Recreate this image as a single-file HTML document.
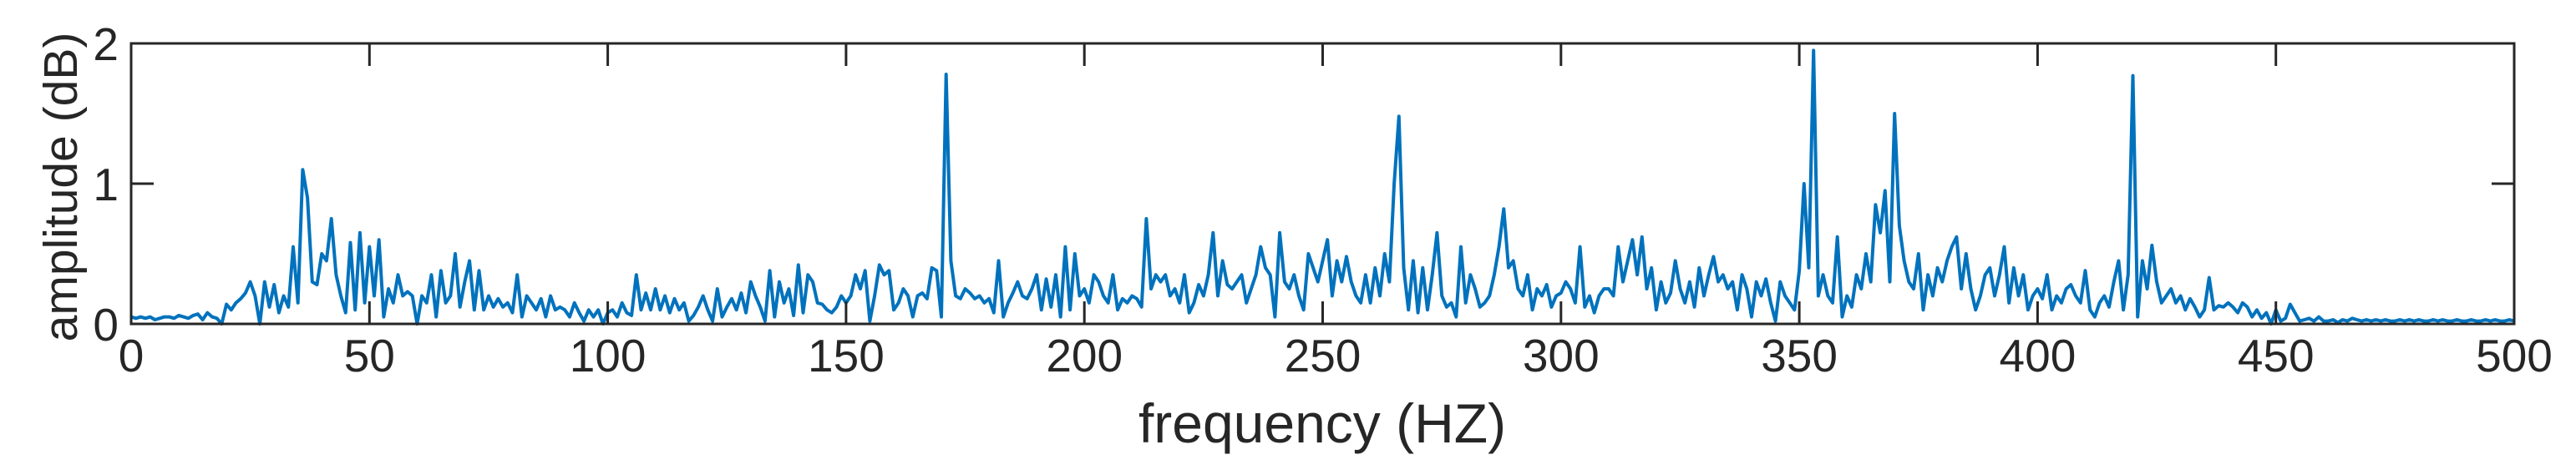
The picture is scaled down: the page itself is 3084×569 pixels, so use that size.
<!DOCTYPE html>
<html><head><meta charset="utf-8"><style>
html,body{margin:0;padding:0;background:#fff;}
svg{display:block;}
text{font-family:"Liberation Sans",Arial,sans-serif;fill:#262626;}
</style></head><body>
<svg id="chart" width="3084" height="569" viewBox="0 0 3084 569" xmlns="http://www.w3.org/2000/svg">
<g id="plot"></g>
<g id="axes"></g>
<text x="1583" y="530" font-size="66" text-anchor="middle">frequency (HZ)</text>
<text transform="translate(92,224) rotate(-90)" font-size="57" text-anchor="middle">amplitude (dB)</text>
</svg>
<script>
const xTicks = [0,50,100,150,200,250,300,350,400,450,500];
const xTickLabels = ["0","50","100","150","200","250","300","350","400","450","500"];
const yTicks = [0,1,2];
const yTickLabels = ["0","1","2"];
const freqStart = 0;
const freqStep = 1;
const amplitude = [
0.05,0.04,0.05,0.04,0.05,0.03,0.04,0.05,0.05,0.04,
0.06,0.05,0.04,0.06,0.07,0.03,0.08,0.05,0.04,0.0,
0.14,0.1,0.15,0.18,0.22,0.3,0.2,0.0,0.3,0.12,
0.28,0.08,0.2,0.12,0.55,0.15,1.1,0.9,0.3,0.28,
0.5,0.45,0.75,0.35,0.2,0.08,0.58,0.1,0.65,0.15,
0.55,0.2,0.6,0.05,0.25,0.15,0.35,0.2,0.23,0.2,
0.0,0.2,0.15,0.35,0.05,0.38,0.15,0.2,0.5,0.12,
0.3,0.45,0.1,0.38,0.1,0.2,0.12,0.18,0.12,0.15,
0.08,0.35,0.05,0.2,0.15,0.1,0.18,0.05,0.2,0.1,
0.12,0.1,0.05,0.15,0.08,0.02,0.1,0.05,0.1,0.0,
0.08,0.1,0.05,0.15,0.08,0.06,0.35,0.1,0.22,0.1,
0.25,0.1,0.2,0.08,0.18,0.1,0.15,0.02,0.06,0.12,
0.2,0.1,0.02,0.25,0.05,0.12,0.18,0.1,0.22,0.08,
0.3,0.2,0.12,0.02,0.38,0.05,0.3,0.15,0.25,0.06,
0.42,0.08,0.35,0.3,0.15,0.14,0.1,0.08,0.12,0.2,
0.15,0.2,0.35,0.25,0.38,0.02,0.2,0.42,0.35,0.38,
0.1,0.15,0.25,0.2,0.05,0.2,0.22,0.18,0.4,0.38,
0.05,1.78,0.45,0.2,0.18,0.25,0.22,0.18,0.2,0.15,
0.18,0.08,0.45,0.05,0.15,0.22,0.3,0.2,0.18,0.25,
0.35,0.1,0.32,0.12,0.35,0.05,0.55,0.1,0.5,0.2,
0.25,0.15,0.35,0.3,0.2,0.15,0.35,0.1,0.18,0.15,
0.2,0.18,0.12,0.75,0.25,0.35,0.3,0.35,0.2,0.25,
0.15,0.35,0.08,0.15,0.28,0.2,0.35,0.65,0.2,0.45,
0.28,0.25,0.3,0.35,0.15,0.25,0.35,0.55,0.4,0.35,
0.05,0.65,0.3,0.25,0.35,0.2,0.1,0.5,0.4,0.3,
0.45,0.6,0.2,0.45,0.3,0.48,0.3,0.2,0.15,0.35,
0.15,0.4,0.2,0.5,0.3,1.0,1.48,0.4,0.1,0.45,
0.08,0.4,0.1,0.35,0.65,0.2,0.12,0.15,0.05,0.55,
0.15,0.35,0.25,0.12,0.15,0.2,0.35,0.55,0.82,0.4,
0.45,0.25,0.2,0.35,0.1,0.25,0.2,0.28,0.12,0.2,
0.22,0.3,0.25,0.15,0.55,0.12,0.2,0.08,0.2,0.25,
0.25,0.2,0.55,0.3,0.45,0.6,0.35,0.62,0.25,0.4,
0.1,0.3,0.15,0.22,0.45,0.25,0.15,0.3,0.12,0.4,
0.2,0.35,0.48,0.3,0.35,0.25,0.3,0.1,0.35,0.25,
0.05,0.3,0.2,0.32,0.15,0.02,0.3,0.2,0.15,0.1,
0.38,1.0,0.4,1.95,0.2,0.35,0.2,0.15,0.62,0.05,
0.2,0.12,0.35,0.25,0.5,0.3,0.85,0.65,0.95,0.3,
1.5,0.7,0.45,0.3,0.25,0.5,0.1,0.35,0.2,0.4,
0.3,0.45,0.55,0.62,0.25,0.5,0.25,0.1,0.2,0.35,
0.4,0.2,0.35,0.55,0.15,0.4,0.2,0.35,0.1,0.2,
0.25,0.18,0.35,0.1,0.2,0.15,0.25,0.28,0.2,0.15,
0.38,0.1,0.05,0.15,0.2,0.12,0.3,0.45,0.1,0.35,
1.77,0.05,0.45,0.25,0.56,0.3,0.15,0.2,0.25,0.15,
0.2,0.1,0.18,0.12,0.05,0.1,0.33,0.1,0.13,0.12,
0.15,0.12,0.08,0.15,0.12,0.05,0.1,0.04,0.08,0.0,
0.1,0.02,0.04,0.14,0.08,0.02,0.03,0.04,0.02,0.05,
0.02,0.02,0.03,0.01,0.03,0.02,0.04,0.03,0.02,0.03,
0.02,0.03,0.02,0.03,0.02,0.02,0.03,0.02,0.03,0.02,
0.03,0.02,0.02,0.03,0.02,0.03,0.02,0.02,0.03,0.02,
0.02,0.03,0.02,0.02,0.03,0.02,0.03,0.02,0.02,0.03,
0.02
];

const L = 157, R = 3010, T = 52, B = 388;
const xMin = 0, xMax = 500, yMin = 0, yMax = 2;
function xs(v){ return L + (v - xMin) / (xMax - xMin) * (R - L); }
function ys(v){ return B - (v - yMin) / (yMax - yMin) * (B - T); }
const NS = "http://www.w3.org/2000/svg";
const plot = document.getElementById('plot');
const axes = document.getElementById('axes');

let d = "";
amplitude.forEach((a, i) => {
  const f = freqStart + i * freqStep;
  d += (i ? "L" : "M") + xs(f).toFixed(1) + "," + ys(a).toFixed(1);
});
const line = document.createElementNS(NS, 'path');


line.setAttribute('d', d);
line.setAttribute('fill', 'none');
line.setAttribute('stroke', '#0072BD');
line.setAttribute('stroke-width', '4');
line.setAttribute('stroke-linejoin', 'round');
plot.appendChild(line);

const box = document.createElementNS(NS, 'rect');


box.setAttribute('x', L);
box.setAttribute('y', T);
box.setAttribute('width', R - L);
box.setAttribute('height', B - T);
box.setAttribute('fill', 'none');
box.setAttribute('stroke', '#262626');
box.setAttribute('stroke-width', '3');
axes.appendChild(box);

const tl = 27;
xTicks.forEach((v, i) => {
  const x = xs(v);
  const t1 = document.createElementNS(NS, 'path');
  
  
  t1.setAttribute('d', `M${x},${B}V${B - tl}M${x},${T}V${T + tl}`);
  t1.setAttribute('stroke', '#262626');
  t1.setAttribute('stroke-width', '3');
  axes.appendChild(t1);
  const lb = document.createElementNS(NS, 'text');
  
  
  lb.setAttribute('x', x);
  lb.setAttribute('y', 445);
  lb.setAttribute('font-size', '55');
  lb.setAttribute('text-anchor', 'middle');
  lb.textContent = xTickLabels[i];
  axes.appendChild(lb);
});
yTicks.forEach((v, i) => {
  const y = ys(v);
  const t1 = document.createElementNS(NS, 'path');
  
  
  t1.setAttribute('d', `M${L},${y}H${L + tl}M${R},${y}H${R - tl}`);
  t1.setAttribute('stroke', '#262626');
  t1.setAttribute('stroke-width', '3');
  axes.appendChild(t1);
  const lb = document.createElementNS(NS, 'text');
  
  
  lb.setAttribute('x', 142);
  lb.setAttribute('y', y + 20);
  lb.setAttribute('font-size', '55');
  lb.setAttribute('text-anchor', 'end');
  lb.textContent = yTickLabels[i];
  axes.appendChild(lb);
});
</script>
</body></html>
